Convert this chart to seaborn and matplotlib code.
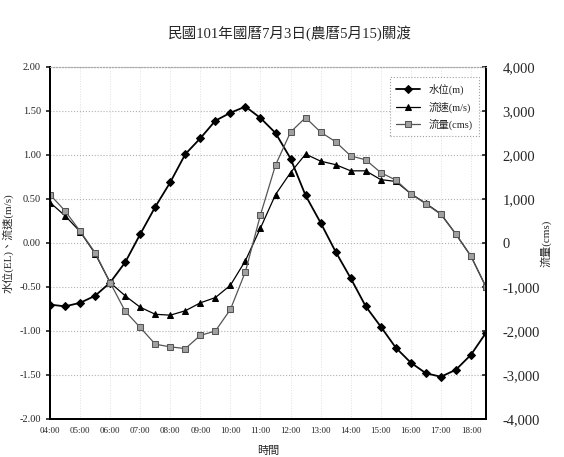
import numpy as np
import pandas as pd
import seaborn as sns
import matplotlib.pyplot as plt
from matplotlib.ticker import FuncFormatter

times = ['04:00', '04:30', '05:00', '05:30', '06:00', '06:30', '07:00', '07:30',
         '08:00', '08:30', '09:00', '09:30', '10:00', '10:30', '11:00', '11:30',
         '12:00', '12:30', '13:00', '13:30', '14:00', '14:30', '15:00', '15:30',
         '16:00', '16:30', '17:00', '17:30', '18:00', '18:30']

water_level = [-0.70, -0.72, -0.68, -0.60, -0.45, -0.22, 0.10, 0.41, 0.69, 1.01,
               1.19, 1.39, 1.48, 1.55, 1.42, 1.25, 0.96, 0.54, 0.23, -0.10,
               -0.40, -0.72, -0.95, -1.19, -1.36, -1.48, -1.52, -1.44, -1.27, -1.02]

velocity = [0.46, 0.31, 0.13, -0.12, -0.45, -0.60, -0.73, -0.81, -0.82, -0.77,
            -0.68, -0.62, -0.48, -0.20, 0.17, 0.55, 0.80, 1.01, 0.93, 0.89,
            0.82, 0.82, 0.72, 0.70, 0.56, 0.45, 0.33, 0.10, -0.15, -0.50]

discharge = [1100, 730, 270, -220, -900, -1550, -1920, -2300, -2360, -2400,
             -2100, -2000, -1510, -650, 640, 1770, 2520, 2850, 2520, 2300,
             1980, 1890, 1600, 1430, 1120, 890, 650, 200, -300, -1000]

title = '民國101年國曆7月3日(農曆5月15)關渡'
fonts = ['Liberation Serif', 'Noto Sans CJK TC']

sns.set_theme(style='white')
plt.rcParams['font.family'] = fonts

df = pd.DataFrame({'time': times, 'level': water_level,
                   'velocity': velocity, 'discharge': discharge})
df['pos'] = range(len(df))

fig = plt.figure(figsize=(5.64, 4.57), dpi=100)
ax = fig.add_axes([50 / 564, 1 - 419 / 457, 436 / 564, 352 / 457])
ax2 = ax.twinx()

sns.lineplot(data=df, x='pos', y='level', ax=ax, color='black', marker='D',
             markersize=4.5, linewidth=1.3, markeredgecolor='black', label='水位(m)')
sns.lineplot(data=df, x='pos', y='velocity', ax=ax, color='black', marker='^',
             markersize=5, linewidth=0.9, markeredgecolor='black', label='流速(m/s)')
sns.lineplot(data=df, x='pos', y='discharge', ax=ax2, color='#555555', marker='s',
             markersize=5, linewidth=0.9, markerfacecolor='#a0a0a0',
             markeredgecolor='#555555', label='流量(cms)')

ax.set_xlim(0, len(times) - 1)
ax.set_ylim(-2, 2)
ax2.set_ylim(-4000, 4000)
ax.set_yticks(np.arange(-2, 2.01, 0.5))
ax2.set_yticks(np.arange(-4000, 4001, 1000))
ax.yaxis.set_major_formatter(FuncFormatter(lambda v, p: f'{v:.2f}'))
ax2.yaxis.set_major_formatter(FuncFormatter(lambda v, p: f'{v:,.0f}'))
ax.set_xticks(range(0, len(times), 2))
ax.set_xticklabels(times[::2])

ax.tick_params(axis='x', labelsize=6.5, length=0, pad=6)
ax.tick_params(axis='y', labelsize=7.5, length=3, direction='out', left=True)
ax2.tick_params(axis='y', labelsize=10.5, length=3, direction='in', right=True, pad=12)

ax.grid(True, axis='y', linestyle=':', color='#b0b0b0', linewidth=0.8)
ax.grid(True, axis='x', linestyle=':', color='#e0e0e0', linewidth=0.7)

for a in (ax, ax2):
    a.spines['left'].set_linewidth(1.4)
    a.spines['bottom'].set_linewidth(1.4)
    a.spines['right'].set_linewidth(1.4)
    a.spines['top'].set_linestyle(':')
    a.spines['top'].set_color('#aaaaaa')
    a.spines['top'].set_linewidth(0.8)
    for s in ('left', 'bottom', 'right'):
        a.spines[s].set_color('black')

ax.set_xlabel('時間', fontsize=8, labelpad=8)
ax.set_ylabel('水位(EL)、流速(m/s)', fontsize=8, labelpad=4)
ax2.set_ylabel('流量(cms)', fontsize=8, labelpad=0)

h1, l1 = ax.get_legend_handles_labels()
h2, l2 = ax2.get_legend_handles_labels()
if ax2.get_legend():
    ax2.get_legend().remove()
ax.get_legend().remove()
leg = ax2.legend(h1 + h2, l1 + l2, loc='upper right', bbox_to_anchor=(0.995, 0.985),
                 fontsize=7.5, frameon=True, fancybox=False, handlelength=2.3,
                 borderpad=0.6, labelspacing=0.6)
leg.get_frame().set_edgecolor('#888888')
leg.get_frame().set_linestyle(':')
leg.get_frame().set_linewidth(0.8)

fig.text(290 / 564, 1 - 33 / 457, title, ha='center', va='center', fontsize=10.5)

fig.savefig('out.png', dpi=100)
